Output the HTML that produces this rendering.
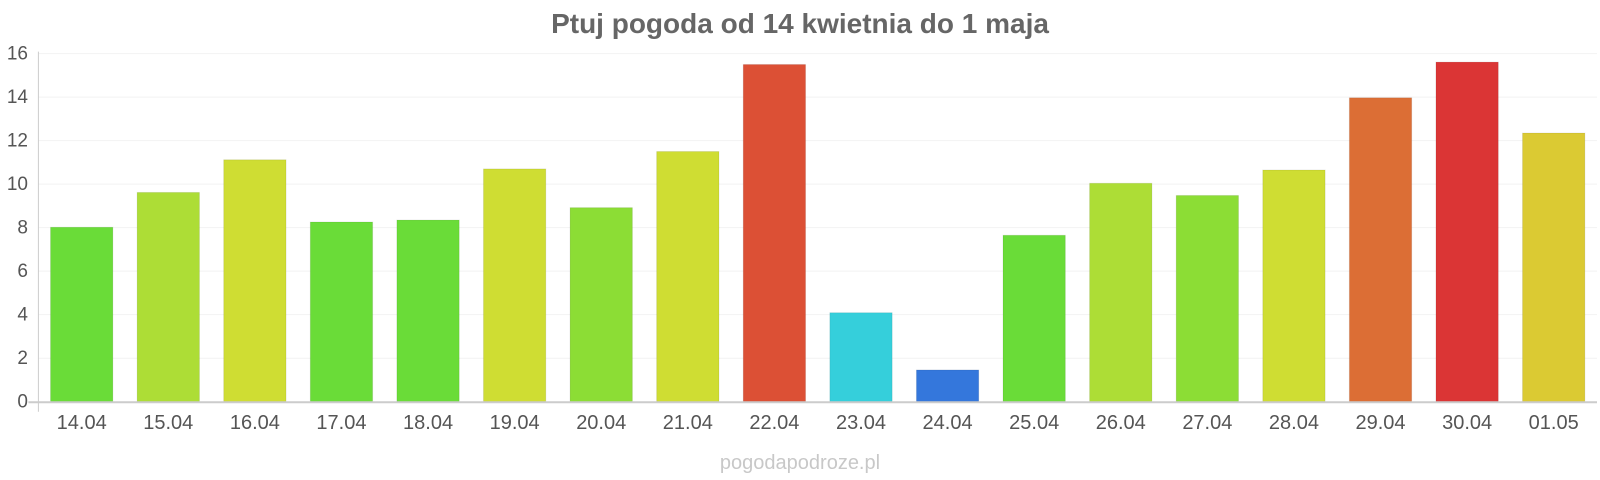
<!DOCTYPE html>
<html><head><meta charset="utf-8"><style>
html,body{margin:0;padding:0;background:#fff;}
svg{display:block;font-family:"Liberation Sans",Arial,sans-serif;}
</style></head><body>
<svg id="chart" width="1600" height="480">
<text x="800" y="33" text-anchor="middle" font-size="28" font-weight="bold" fill="#666">Ptuj pogoda od 14 kwietnia do 1 maja</text>
<g id="grid"></g><g id="bars"></g><g id="axes"></g>
<text x="800" y="469" text-anchor="middle" font-size="20" fill="#c8c8c8">pogodapodroze.pl</text>
</svg>
<script>
const categories=["14.04","15.04","16.04","17.04","18.04","19.04","20.04","21.04","22.04","23.04","24.04","25.04","26.04","27.04","28.04","29.04","30.04","01.05"];
const values=[8.02,9.62,11.12,8.26,8.35,10.7,8.92,11.5,15.5,4.09,1.46,7.65,10.04,9.48,10.65,13.97,15.61,12.35];
const colors=["#6adc38","#addd36","#cfdd33","#6adc38","#6adc38","#cfdd33","#8cdd35","#cfdd33","#dc5035","#35cfdb","#3477dc","#6adc38","#addd36","#8cdd35","#cfdd33","#dc6e35","#db3535","#dbca33"];
const yTicks=[0,2,4,6,8,10,12,14,16];
const NS="http://www.w3.org/2000/svg";
const L=38.4,R=1597,T=53.6,B=401.7,MAX=16;
const band=(R-L)/categories.length;
const y=v=>B-(v/MAX)*(B-T);
const x=i=>L+band*i;
function mk(t,a,p){const e=document.createElementNS(NS,t);for(const k in a)e.setAttribute(k,a[k]);p.appendChild(e);return e;}
const grid=document.getElementById('grid'),bars=document.getElementById('bars'),axes=document.getElementById('axes');
yTicks.forEach(v=>{
  if(v>0){const g=mk('line',{x1:L,x2:R,y1:y(v),y2:y(v),stroke:'#f2f2f2','stroke-width':1},grid);
  
  }
  const t=mk('text',{x:28,y:y(v)+6,'text-anchor':'end','font-size':19,fill:'#555'},axes);
  t.textContent=v;
  
  
});
categories.forEach((c,i)=>{
  const bw=band*0.72,bx=x(i)+(band-bw)/2;
  const r=mk('rect',{x:bx,y:y(values[i]),width:bw,height:B-y(values[i]),fill:colors[i],stroke:'rgba(0,0,0,0.08)','stroke-width':1},bars);
  
  
  const t=mk('text',{x:x(i)+band/2,y:429,'text-anchor':'middle','font-size':20,fill:'#555'},axes);
  t.textContent=c;
  
  
});
const xa=mk('line',{x1:L-10,x2:R,y1:B+0.5,y2:B+0.5,stroke:'#ccc','stroke-width':2},axes);


const ya=mk('line',{x1:L,x2:L,y1:T-2,y2:B+10,stroke:'#ccc','stroke-width':1},axes);


</script>
</body></html>
